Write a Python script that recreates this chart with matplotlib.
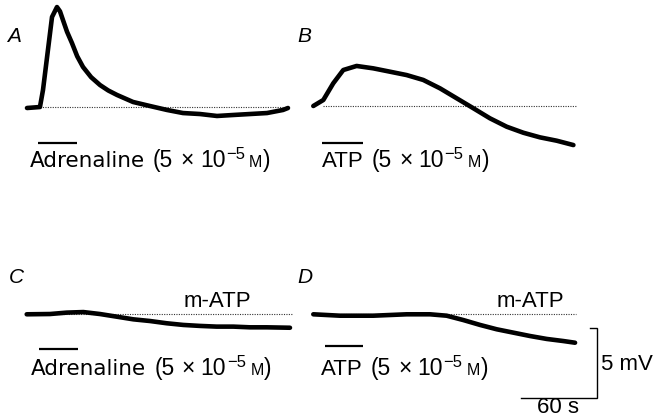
import numpy as np
import matplotlib
matplotlib.use("Agg")
import matplotlib.pyplot as plt

plt.rcParams['font.family'] = ['Liberation Sans', 'DejaVu Sans']

# traces: time (s) from start of record, membrane potential (mV) relative to baseline
t_a = [0, 10.2, 12.6, 16.5, 19.7, 23.6, 26.0, 28.3, 31.5, 35.4, 39.5, 44.1, 50.5,
       57.5, 64.0, 70.9, 83.5, 96.9, 110.2, 122.8, 136.2, 149.6, 162.2, 175.6, 189,
       201.6, 205.5]
v_a = [-0.05, 0.02, 1.24, 4.1, 6.45, 7.16, 6.85, 6.24, 5.4, 4.59, 3.65, 2.88, 2.15,
       1.59, 1.2, 0.88, 0.38, 0.09, -0.19, -0.41, -0.48, -0.62, -0.55, -0.48, -0.41,
       -0.19, -0.05]

t_b = [0, 7.9, 15.7, 23.6, 34.1, 47.2, 60.4, 73.5, 86.6, 99.8, 112.9, 126, 139.1,
       152.3, 165.4, 178.5, 191.7, 204.8]
v_b = [0, 0.43, 1.62, 2.57, 2.86, 2.69, 2.45, 2.21, 1.86, 1.26, 0.55, -0.16, -0.88,
       -1.48, -1.91, -2.24, -2.48, -2.79]

t_c = [0, 18.3, 31.5, 44.6, 57.7, 70.9, 84, 97.1, 110.2, 123.3, 136.5, 149.6, 162.7,
       175.8, 189, 207.3]
v_c = [0, 0.02, 0.12, 0.16, 0.02, -0.17, -0.36, -0.48, -0.64, -0.76, -0.83, -0.88,
       -0.88, -0.93, -0.93, -0.96]

t_d = [0, 21, 47.2, 73.5, 91.9, 105, 118.1, 131.3, 144.4, 157.5, 170.6, 183.8,
       196.9, 206.1]
v_d = [0, -0.1, -0.1, 0, 0, -0.1, -0.41, -0.76, -1.07, -1.31, -1.55, -1.76,
       -1.91, -2.03]

# drug application bars (start, end in s) and baseline extents
bar_a, bar_b, bar_c, bar_d = (8.7, 39.4), (6.6, 39.4), (9.9, 40.6), (9.2, 39.4)
base_a, base_b, base_c, base_d = (10, 206), (8, 208), (10, 209), (10, 207)

W, H = 655, 418
PX_S, PX_MV = 1.27, 14.0       # pixels per second, pixels per mV
T0, T1, V0, V1 = -25, 235, -7, 8

fig = plt.figure(figsize=(W / 100, H / 100), dpi=100)


def panel(x0, y0):
    # axes where (t=0, v=0) falls on pixel (x0, y0), y measured from top
    left = x0 + T0 * PX_S
    width = (T1 - T0) * PX_S
    top = y0 - V1 * PX_MV
    height = (V1 - V0) * PX_MV
    ax = fig.add_axes([left / W, 1 - (top + height) / H, width / W, height / H])
    ax.set_xlim(T0, T1)
    ax.set_ylim(V0, V1)
    ax.axis('off')
    ax.patch.set_alpha(0)
    return ax


def trace(ax, t, v, bar, base, bar_v):
    ax.plot(base, [0, 0], color='#333333', lw=0.8, ls=(0, (1, 1.2)))
    ax.plot(t, v, color='black', lw=3.3, solid_joinstyle='round',
            solid_capstyle='round')
    ax.plot(bar, [bar_v, bar_v], color='black', lw=1.6, solid_capstyle='butt')


ax_a = panel(27, 107.3)
trace(ax_a, t_a, v_a, bar_a, base_a, -2.55)
ax_b = panel(313.3, 106)
trace(ax_b, t_b, v_b, bar_b, base_b, -2.62)
ax_c = panel(26.7, 314.3)
trace(ax_c, t_c, v_c, bar_c, base_c, -2.5)
ax_d = panel(313.3, 314.3)
trace(ax_d, t_d, v_d, bar_d, base_d, -2.26)

# scale bars: 5 mV and 60 s
ax_d.plot([218, 223.6, 223.6, 163.6], [-1, -1, -6, -6], color='black', lw=1.0,
          solid_joinstyle='miter')

renderer = fig.canvas.get_renderer()
FS = 16


def ptext(x, y, s, **kw):
    return fig.text(x / W, 1 - y / H, s, va='baseline', **kw)


def drug_label(x, y, name):
    # pieces written one after another: (text, size, family, gap px, raise px)
    if name == 'Adrenaline':
        first = (name, 15.5, 'DejaVu Sans', 0, 0)
    else:
        first = (name, FS, 'Liberation Sans', 0, 0)
    parts = [first,
             ('(5', 16.5, 'Liberation Sans', 8, 0),
             ('\u00d7', 16.5, 'Liberation Sans', 7, 0),
             ('10', 16.5, 'Liberation Sans', 6, 0),
             ('\u22125', 12, 'Liberation Sans', 0.5, 8),
             ('M', 11.5, 'Liberation Sans', 4.5, 0),
             (')', 16.5, 'Liberation Sans', 0.5, 0)]
    xpix = x
    for s, fs, f, gap, up in parts:
        t = fig.text((xpix + gap) / W, 1 - (y - up) / H, s, fontsize=fs,
                     family=f, va='baseline')
        xpix = t.get_window_extent(renderer).x1


drug_label(30, 167, 'Adrenaline')
drug_label(322, 167, 'ATP')
drug_label(31, 375, 'Adrenaline')
drug_label(321, 375, 'ATP')

ptext(217, 307, 'm-ATP', fontsize=FS, ha='center')
ptext(530, 307, 'm-ATP', fontsize=FS, ha='center')
ptext(601, 370, '5 mV', fontsize=FS)
ptext(558, 413, '60 s', fontsize=FS, ha='center')

for x, y, s in [(7, 42, 'A'), (297, 42, 'B'), (9, 283, 'C'), (297, 283, 'D')]:
    ptext(x, y, s, fontsize=15, style='italic')

fig.savefig('out.png', dpi=100)
